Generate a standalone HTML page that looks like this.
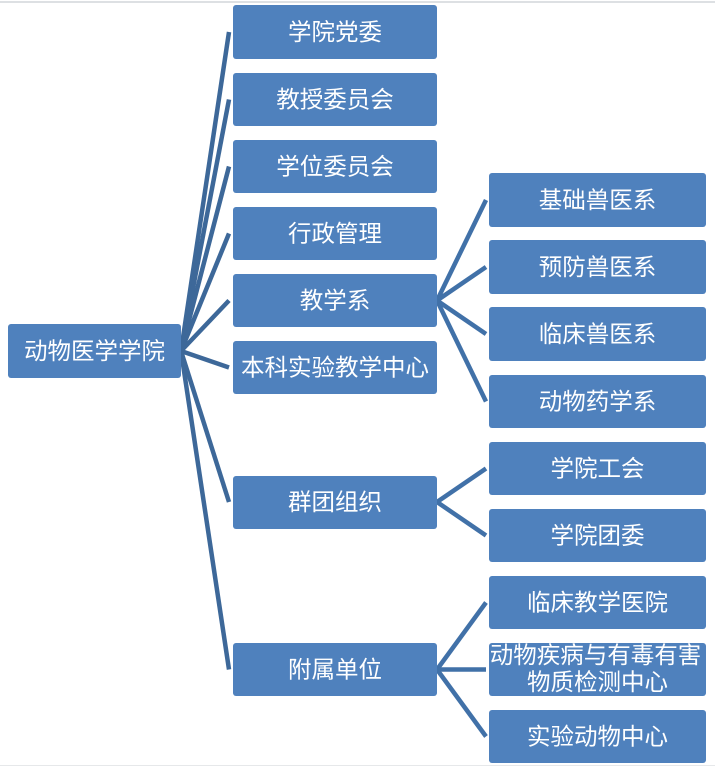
<!DOCTYPE html>
<html><head><meta charset="utf-8"><style>
html,body{margin:0;padding:0;background:#fff;}
svg{display:block;}
text{font-family:"Liberation Sans","Noto Sans CJK SC",sans-serif;font-size:23.5px;fill:#fff;text-anchor:middle;dominant-baseline:central;}
</style></head><body>
<svg width="715" height="766" viewBox="0 0 715 766" xmlns="http://www.w3.org/2000/svg">
<rect x="0" y="0" width="715" height="766" fill="#fff"/>
<rect x="0" y="1" width="715" height="2" fill="#dde0e3"/>
<rect x="0" y="765" width="715" height="1" fill="#e6e8ea"/>
<g stroke="#3d6899" stroke-width="4.5" fill="none">
<line x1="181" y1="351" x2="229" y2="32"/>
<line x1="181" y1="351" x2="229" y2="99.5"/>
<line x1="181" y1="351" x2="229" y2="166.5"/>
<line x1="181" y1="351" x2="229" y2="233.5"/>
<line x1="181" y1="351" x2="229" y2="300.5"/>
<line x1="181" y1="351" x2="229" y2="367.5"/>
<line x1="181" y1="351" x2="229" y2="502"/>
<line x1="181" y1="351" x2="229" y2="669.5"/>
</g>
<g stroke="#4171a8" stroke-width="4.5" fill="none">
<line x1="437" y1="300.5" x2="486" y2="200"/>
<line x1="437" y1="300.5" x2="486" y2="267"/>
<line x1="437" y1="300.5" x2="486" y2="334"/>
<line x1="437" y1="300.5" x2="486" y2="401.5"/>
<line x1="437" y1="502" x2="486" y2="468.5"/>
<line x1="437" y1="502" x2="486" y2="535.5"/>
<line x1="437" y1="669.5" x2="486" y2="602.5"/>
<line x1="437" y1="669.5" x2="486" y2="669.5"/>
<line x1="437" y1="669.5" x2="486" y2="736.5"/>
</g>
<g fill="#4f81bd">
<rect x="8" y="324" width="173" height="54" rx="3"/>
<rect x="233" y="5" width="204" height="54" rx="3"/>
<rect x="233" y="73" width="204" height="53" rx="3"/>
<rect x="233" y="140" width="204" height="53" rx="3"/>
<rect x="233" y="207" width="204" height="53" rx="3"/>
<rect x="233" y="274" width="204" height="53" rx="3"/>
<rect x="233" y="341" width="204" height="53" rx="3"/>
<rect x="233" y="476" width="204" height="53" rx="3"/>
<rect x="233" y="643" width="204" height="53" rx="3"/>
<rect x="489" y="173" width="217" height="54" rx="3"/>
<rect x="489" y="240" width="217" height="54" rx="3"/>
<rect x="489" y="307" width="217" height="54" rx="3"/>
<rect x="489" y="375" width="217" height="53" rx="3"/>
<rect x="489" y="442" width="217" height="53" rx="3"/>
<rect x="489" y="509" width="217" height="53" rx="3"/>
<rect x="489" y="576" width="217" height="53" rx="3"/>
<rect x="489" y="643" width="217" height="53" rx="3"/>
<rect x="489" y="710" width="217" height="53" rx="3"/>
</g>
<text x="94.5" y="351">动物医学学院</text>
<text x="335" y="32">学院党委</text>
<text x="335" y="99.5">教授委员会</text>
<text x="335" y="166.5">学位委员会</text>
<text x="335" y="233.5">行政管理</text>
<text x="335" y="300.5">教学系</text>
<text x="335" y="367.5">本科实验教学中心</text>
<text x="335" y="502">群团组织</text>
<text x="335" y="669.5">附属单位</text>
<text x="597.5" y="200">基础兽医系</text>
<text x="597.5" y="267">预防兽医系</text>
<text x="597.5" y="334">临床兽医系</text>
<text x="597.5" y="401.5">动物药学系</text>
<text x="597.5" y="468.5">学院工会</text>
<text x="597.5" y="535.5">学院团委</text>
<text x="597.5" y="602.5">临床教学医院</text>
<text x="595.5" y="655">动物疾病与有毒有害</text>
<text x="597.5" y="682">物质检测中心</text>
<text x="597.5" y="736.5">实验动物中心</text>
</svg>
</body></html>
